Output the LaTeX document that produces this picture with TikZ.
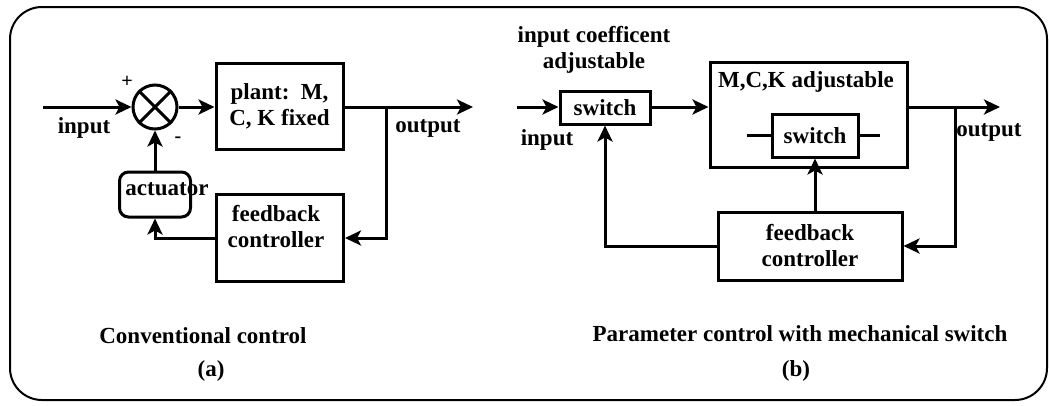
\documentclass[tikz,border=0pt]{standalone}
\usepackage{fontspec}
\setmainfont{Liberation Serif}
\usetikzlibrary{arrows.meta,calc}
\begin{document}
\begin{tikzpicture}[x=1pt,y=-1pt,
  font=\fontsize{23}{26}\selectfont\bfseries,
  box/.style={draw,line width=3pt,inner sep=0pt,align=center},
  lab/.style={inner sep=0pt,align=center},
  sign/.style={inner sep=0pt,font=\fontsize{20}{20}\selectfont\bfseries},
  conn/.style={line width=3pt},
  arr/.style={conn,-{Stealth[length=16pt,width=15pt,inset=4pt]}},
  frame/.style={line width=2pt,rounded corners=32pt}]
\useasboundingbox (0,0) rectangle (1049,405);
\draw[frame] (10,7) rectangle (1047,400);

% ---------- (a) conventional control ----------
\node[box,circle,minimum size=44pt] (sum) at (155,107) {};
\draw[conn] (sum.north west) -- (sum.south east) (sum.north east) -- (sum.south west);
\coordinate (inA) at (43,107);
\draw[arr] (inA) -- (sum.west);
\node[sign] (plus) at (127,82) {+};
\node[sign] (minus) at (178,140) {-};
\node[lab] (inAl) at (84,128) {input};
\node[box,minimum width=127pt,minimum height=86pt] (plant) at (279.5,106) {plant:\ \ M,\\C, K fixed};
\draw[arr] (sum.east) -- (sum.east -| plant.west);
\coordinate (outA) at (473,107);
\draw[arr] (plant.east |- outA) -- (outA);
\node[lab] (outAl) at (428,128) {output};
\coordinate (brA) at (386,107);
\node[box,minimum width=127pt,minimum height=87pt] (fbA) at (280,238) {};
\node[lab] (fbAt) at (276,227) {feedback\\controller};
\draw[arr] (brA) |- (fbA.east);
\node[box,rounded corners=9pt,minimum width=71pt,minimum height=45pt] (act) at (155,194.5) {};
\node[lab] (actt) at (167,189) {actuator};
\draw[arr] (fbA.west) -| (act.south);
\draw[arr] (act.north) -- (sum.south);
\node[lab] (capA) at (203,336) {Conventional control};
\node[lab] (subA) at (211,371) {(a)};

% ---------- (b) parameter control ----------
\node[lab] (coef) at (594,50) {input coefficent\\adjustable};
\node[box,minimum width=90pt,minimum height=33pt] (sw1) at (605,107.5) {switch};
\coordinate (inB) at (517,107);
\draw[arr] (inB) -- (inB -| sw1.west);
\node[lab] (inBl) at (547,140) {input};
\node[box,minimum width=197pt,minimum height=105pt] (mck) at (808.5,114.5) {};
\node[lab] (mckt) at (806,82) {M,C,K adjustable};
\draw[arr] (sw1.east |- inB) -- (mck.west |- inB);
\node[box,minimum width=86pt,minimum height=43pt] (sw2) at (815,135.5) {switch};
\coordinate (s2l) at (747,135.5);
\coordinate (s2r) at (880,135.5);
\draw[conn] (s2l) -- (sw2.west) (sw2.east) -- (s2r);
\coordinate (outB) at (1000,107);
\draw[arr] (mck.east |- outB) -- (outB);
\node[lab] (outBl) at (989,132) {output};
\coordinate (brB) at (955,107);
\node[box,minimum width=184pt,minimum height=68pt] (fbB) at (810,246) {feedback\\controller};
\draw[arr] (brB) |- (fbB.east);
\draw[arr] (fbB.north -| sw2.south) -- (sw2.south);
\draw[arr] (fbB.west) -| (sw1.south);
\node[lab] (capB) at (800,334) {Parameter control with mechanical switch};
\node[lab] (subB) at (796,371) {(b)};
\end{tikzpicture}
\end{document}
